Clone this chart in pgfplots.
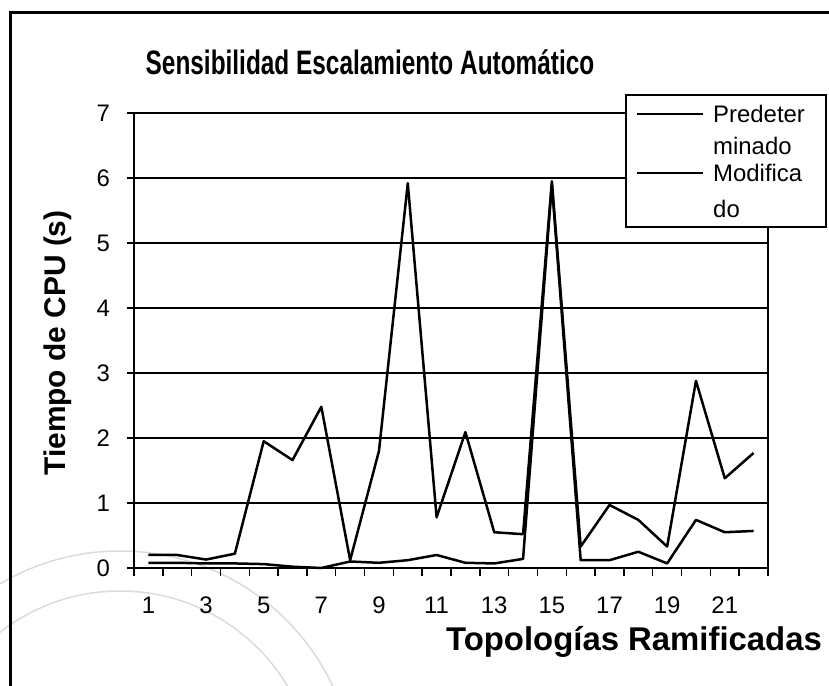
\documentclass[border=0pt]{standalone}
\usepackage{pgfplots}
\pgfplotsset{compat=1.18}
\usepackage{fontspec}
\setmainfont{Liberation Sans}
\newfontfamily\condfont[FakeStretch=0.72]{Liberation Sans}

\pgfplotstableread{
x y
1 0.20
2 0.20
3 0.13
4 0.22
5 1.95
6 1.66
7 2.48
8 0.12
9 1.80
10 5.92
11 0.78
12 2.09
13 0.55
14 0.52
15 5.95
16 0.33
17 0.97
18 0.74
19 0.33
20 2.88
21 1.38
22 1.77
}\predet

\pgfplotstableread{
x y
1 0.08
2 0.08
3 0.07
4 0.07
5 0.06
6 0.02
7 0.00
8 0.10
9 0.08
10 0.12
11 0.20
12 0.08
13 0.07
14 0.14
15 5.90
16 0.12
17 0.12
18 0.25
19 0.07
20 0.74
21 0.55
22 0.57
}\modif

\begin{document}
\begin{tikzpicture}[x=1bp,y=1bp]
\useasboundingbox (0,0) rectangle (829,686);
% faint watermark seal
\begin{scope}
\clip (0,0) rectangle (829,686);
\draw[black!14, line width=1.5bp] (120,-100) circle (235);
\draw[black!14, line width=1.5bp] (120,-100) circle (195);
\end{scope}
% outer frame (left and top)
\draw[line width=3bp] (10,0) -- (10,673) -- (829,673);

\begin{axis}[
  at={(134bp,118bp)}, anchor=south west,
  scale only axis, width=634bp, height=455bp,
  xmin=0.5, xmax=22.5, ymin=0, ymax=7,
  axis lines*=left,
  axis line style={line width=2.5bp, -},
  xtick={1,3,...,21},
  minor xtick={0.5,1.5,...,22.5},
  major x tick style={draw=none},
  minor x tick style={line width=1.5bp, black},
  minor tick length=8bp,
  ytick={0,...,7},
  major y tick style={line width=1.5bp, black},
  major tick length=7bp,
  tick align=outside,
  ymajorgrids,
  major grid style={line width=2.5bp, black},
  xticklabel style={font=\fontsize{24}{24}\selectfont, inner sep=0pt, anchor=north, yshift=-22bp},
  yticklabel style={font=\fontsize{24}{24}\selectfont, inner sep=0pt, anchor=east, xshift=-17bp},
  /pgf/number format/assume math mode=true,
  clip=false,
]
\addplot[black, line width=2.5bp, line join=round, mark=none] table[x=x, y=y] {\predet};
\addplot[black, line width=2.5bp, line join=round, mark=none] table[x=x, y=y] {\modif};
\draw[line width=1.5bp] (rel axis cs:1,0) -- (rel axis cs:1,1);
\end{axis}

% title
\node[anchor=center] at (370,624) {\condfont\bfseries\fontsize{34}{34}\selectfont Sensibilidad Escalamiento Automático};
% axis labels
\node[anchor=center, rotate=90] at (58,343) {\bfseries\fontsize{30}{30}\selectfont Tiempo de CPU (s)};
\node[anchor=center] at (634,44) {\bfseries\fontsize{33}{33}\selectfont Topologías Ramificadas};

% legend
\draw[line width=2.5bp, fill=white] (626,459) rectangle (826,591);
\draw[line width=2bp] (637,572) -- (703,572);
\draw[line width=2bp] (637,513) -- (703,513);
\begin{scope}[every node/.style={anchor=base west, inner sep=0pt, font=\fontsize{24}{24}\selectfont}]
\node at (713,563) {Predeter};
\node at (713,531) {minado};
\node at (713,504) {Modifica};
\node at (713,468) {do};
\end{scope}
\end{tikzpicture}
\end{document}
